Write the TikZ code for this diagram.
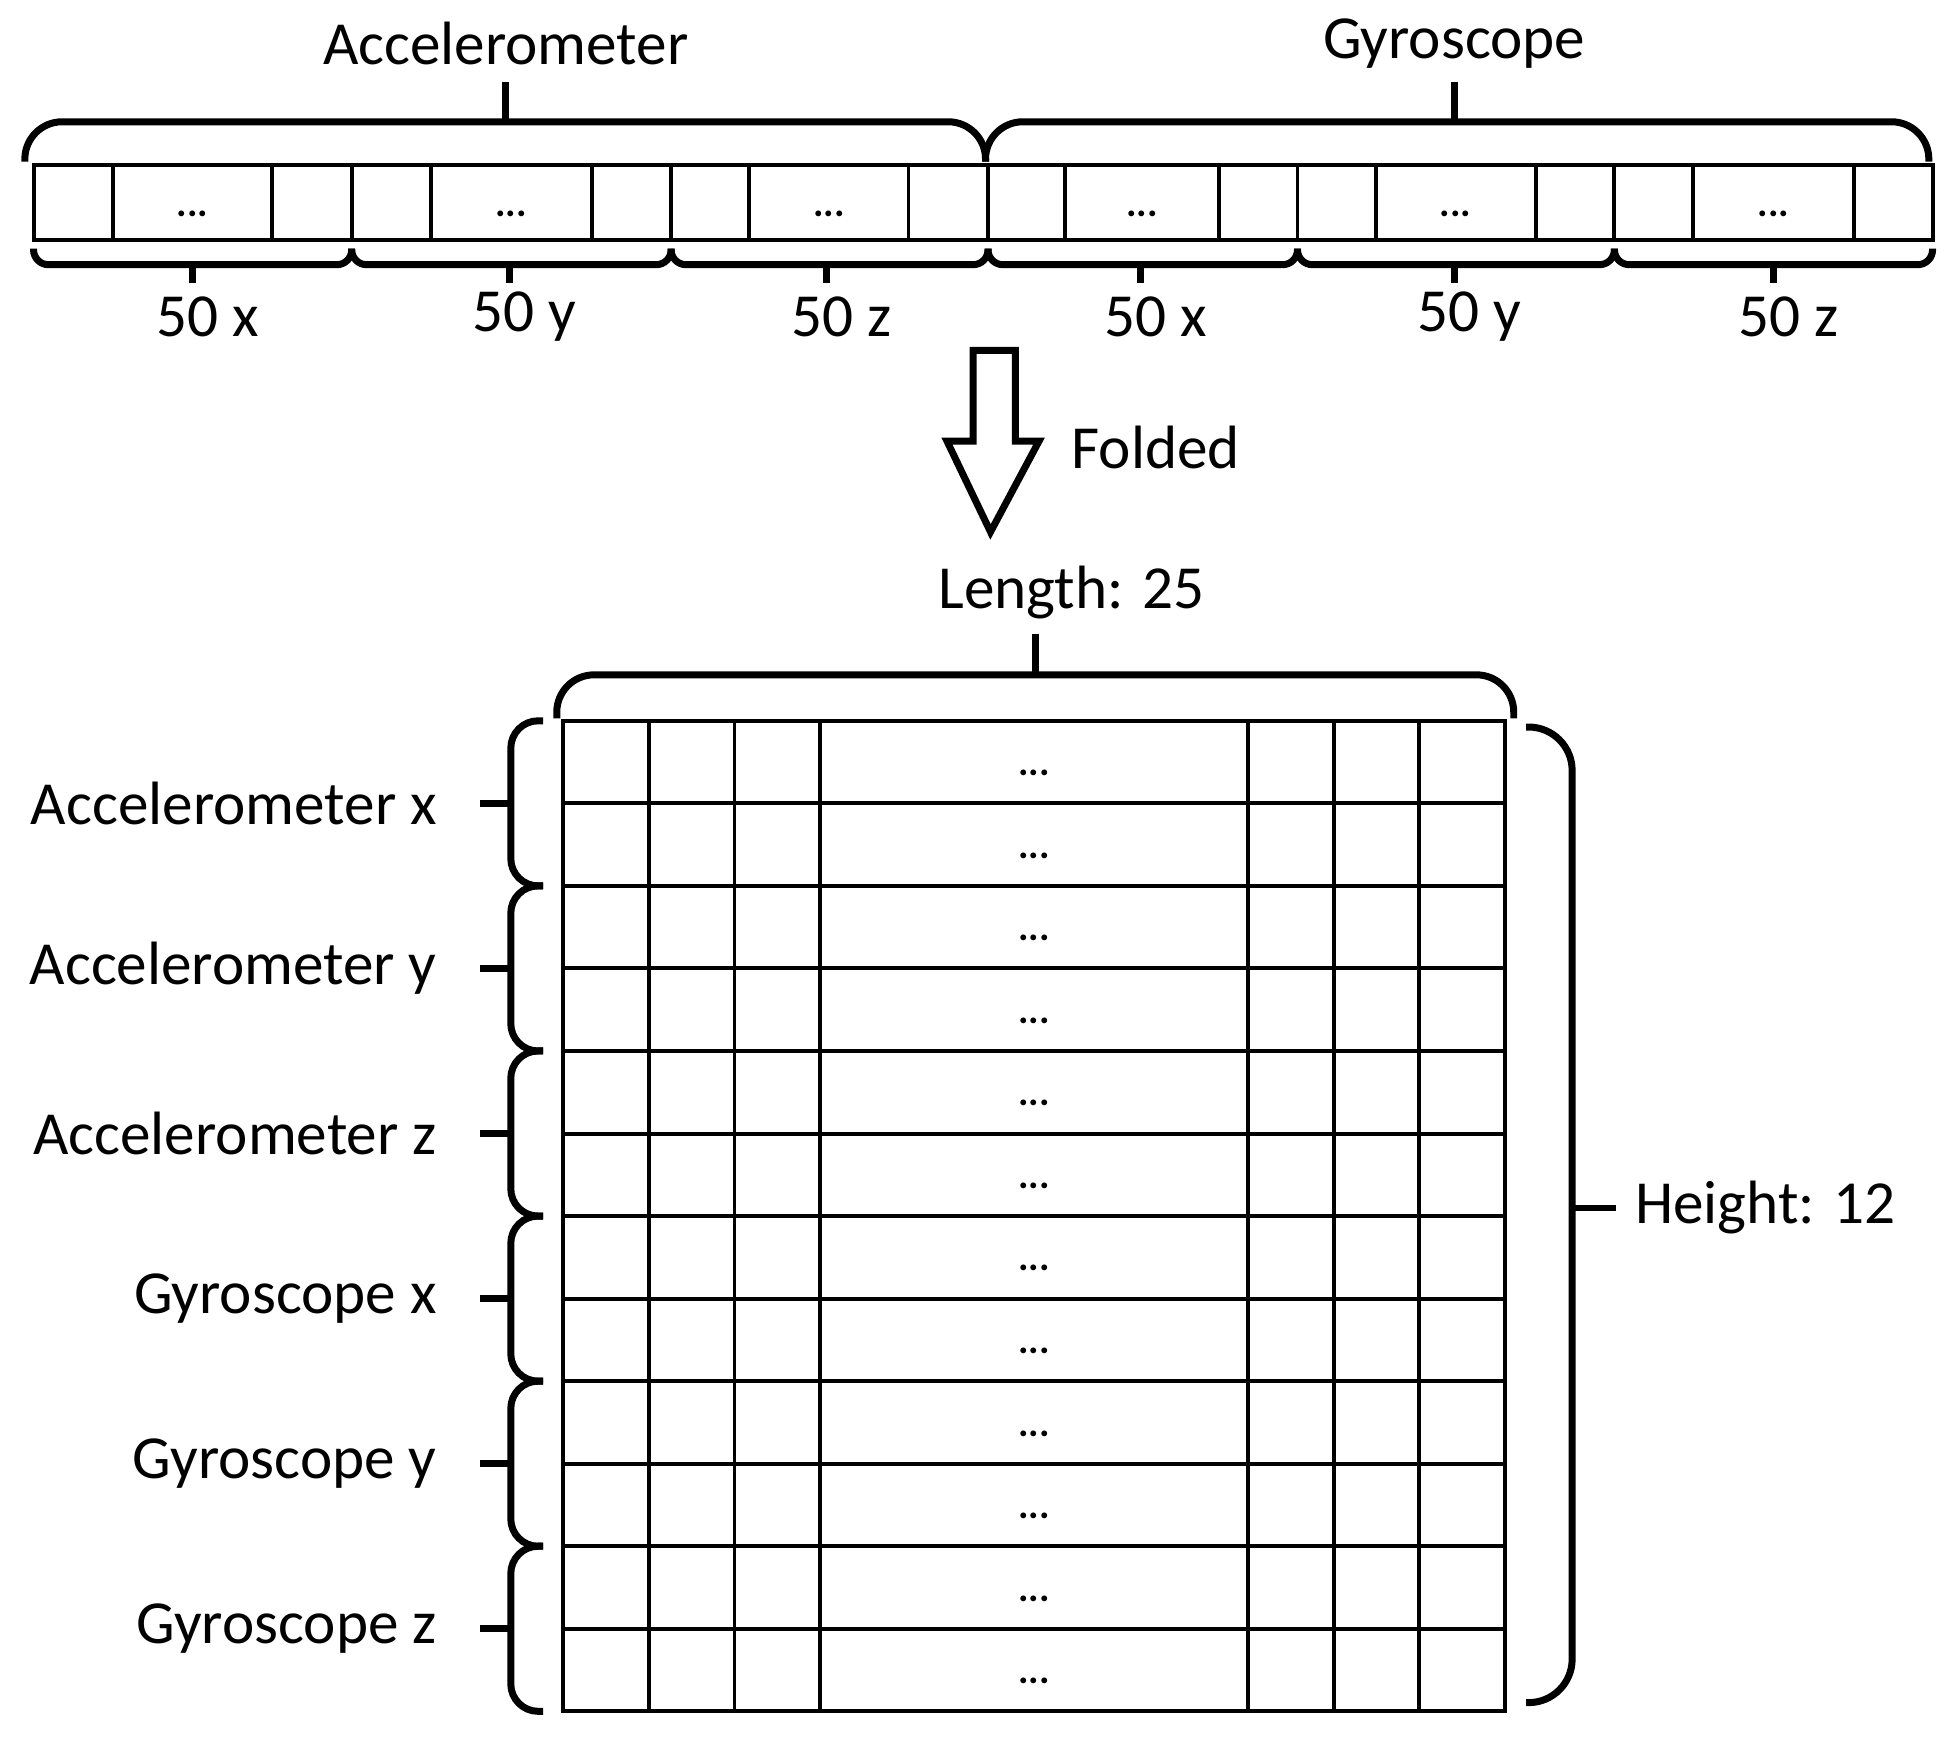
\documentclass[tikz,border=0pt]{standalone}
\usepackage{fontspec}
\setmainfont{Carlito}
\begin{document}
\begin{tikzpicture}[x=0.01cm,y=-0.01cm,
  br/.style={line width=1.6pt,rounded corners=#1},
  lbl/.style={font=\fontsize{14}{16}\selectfont,inner sep=0pt},
  dots/.style={font=\fontsize{9}{10}\selectfont\bfseries,inner sep=0pt},
  cell/.style={draw,line width=0.9pt}]
\useasboundingbox (0,0) rectangle (1565,1398);
% top strip
\draw[cell] (27,133) rectangle (1555,193);
\foreach \x in {91,219,283,347,476,540,603,731,795,857,981,1044,1107,1236,1299,1362,1492}
  \draw[line width=0.9pt] (\x,133) -- (\x,193);
\foreach \x [count=\i] in {155,411,667,919,1171,1427}
  \node[dots] (d\i) at (\x,172) {...};
% top braces
\draw[br=0.3cm] (20,130) -- (20,98) -- (793,98) -- (793,130);
\draw[br=0.3cm] (793,130) -- (793,98) -- (1552,98) -- (1552,130);
\draw[line width=1.6pt] (407,98) -- (407,66);
\draw[line width=1.6pt] (1170,98) -- (1170,66);
\node[lbl] (acc) at (407,35) {Accelerometer};
\node[lbl] (gyr) at (1170,35) {Gyroscope};
% bottom braces
\foreach \a/\b/\m/\t [count=\i] in {27/283/155/50 x,283/540/410/50 y,540/795/665/50 z,795/1044/918/50 x,1044/1299/1170/50 y,1299/1555/1427/50 z}{
  \draw[br=0.12cm] (\a,200) -- (\a,213) -- (\b,213) -- (\b,200);
  \draw[line width=1.6pt] (\m,213) -- (\m,228);
  \node[lbl] (b\i) at (\m+12,255) {\t};
}
% arrow
\draw[line width=1.6pt] (783,282) -- (817,282) -- (817,355) -- (836,355) -- (797,428) -- (762,355) -- (783,355) -- cycle;
\node[lbl] (fold) at (930,360) {Folded};
% grid
\draw[cell] (453,580) rectangle (1211,1377);
\foreach \x in {522,591,660,1004,1073,1142}
  \draw[line width=0.9pt] (\x,580) -- (\x,1377);
\foreach \r in {1,...,11}
  \draw[line width=0.9pt] (453,580+\r*66.42) -- (1211,580+\r*66.42);
\foreach \r in {0,...,11}
  \node[dots] at (832,580+\r*66.42+42) {...};
% length brace
\draw[br=0.3cm] (448,578) -- (448,543) -- (1218,543) -- (1218,578);
\draw[line width=1.6pt] (833,543) -- (833,510);
\node[lbl] (len) at (862,477) {Length: 25};
% left braces
\foreach \t [count=\i from 0] in {Accelerometer x,Accelerometer y,Accelerometer z,Gyroscope x,Gyroscope y,Gyroscope z}{
  \draw[br=0.22cm] (437,580+\i*132.83) -- (411,580+\i*132.83) -- (411,580+\i*132.83+132.83) -- (437,580+\i*132.83+132.83);
  \draw[line width=1.6pt] (411,580+\i*132.83+66.4) -- (386,580+\i*132.83+66.4);
  \node[lbl,anchor=east] (l\i) at (352,580+\i*132.83+66.4) {\t};
}
% right brace
\draw[br=0.35cm] (1228,585) -- (1265,585) -- (1265,1370) -- (1228,1370);
\draw[line width=1.6pt] (1265,972) -- (1300,972);
\node[lbl,anchor=west] (ht) at (1315,972) {Height: 12};
\end{tikzpicture}
\end{document}
